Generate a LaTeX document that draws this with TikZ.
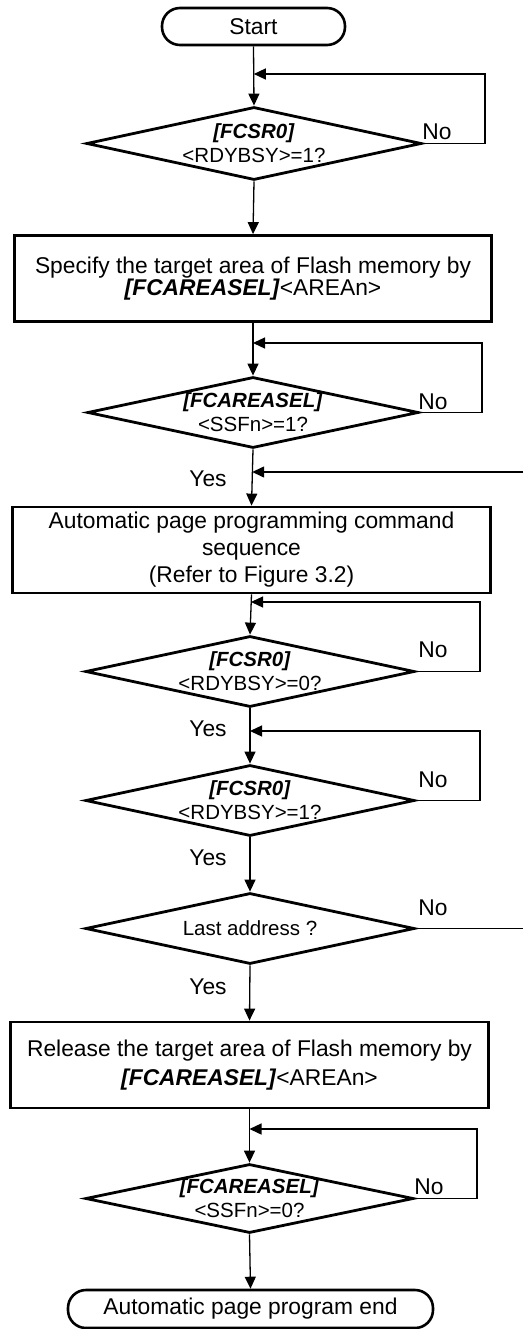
\documentclass[tikz,border=0pt]{standalone}
\usepackage{fontspec}
\setmainfont{Liberation Sans}
\usetikzlibrary{shapes.geometric,arrows.meta}
\begin{document}
\begin{tikzpicture}[x=1pt,y=-1pt,
  term/.style={draw,line width=2.6pt,rounded corners=18pt,minimum height=37pt,inner sep=0pt,font=\fontsize{22.8}{27}\selectfont},
  procbox/.style={draw,line width=2.8pt,minimum width=477pt,minimum height=86pt,inner sep=0pt,align=center,font=\fontsize{22.8}{27}\selectfont},
  decision/.style={draw,diamond,line width=2.8pt,inner sep=0pt,minimum width=330pt,minimum height=71pt},
  dtext/.style={inner sep=0pt,align=center,font=\fontsize{20.5}{24}\selectfont},
  lbl/.style={inner sep=0pt,font=\fontsize{22.8}{27}\selectfont},
  flow/.style={line width=1.3pt,-{Triangle[length=12pt,width=11pt]}},
  plain/.style={line width=1.3pt},
  reg/.style={font=\bfseries\itshape}
]
\useasboundingbox (0,0) rectangle (523,1329);

% nodes
\node[term,minimum width=183pt] (start) at (253.5,26.5) {Start};
\node[decision,minimum width=335pt,minimum height=73pt] (d1) at (254,143.5) {};
\node[dtext] (t1) at (d1.center) {\textbf{\textit{[FCSR0]}}\\<RDYBSY>=1?};
\node[procbox] (b1) at (253,278.5) {Specify the target area of Flash memory by\\[-5pt]\textbf{\textit{[FCAREASEL]}}<AREAn>};
\node[decision,minimum width=331pt] (d2) at (253,412.5) {};
\node[dtext] (t2) at (d2.center) {\textbf{\textit{[FCAREASEL]}}\\<SSFn>=1?};
\node[procbox,minimum width=478pt] (b2) at (251.5,550) {Automatic page programming command\\sequence\\(Refer to Figure 3.2)};
\node[decision,minimum width=329pt] (d3) at (250,671.5) {};
\node[dtext] (t3) at (d3.center) {\textbf{\textit{[FCSR0]}}\\<RDYBSY>=0?};
\node[decision,minimum width=329pt] (d4) at (250,800.5) {};
\node[dtext] (t4) at (d4.center) {\textbf{\textit{[FCSR0]}}\\<RDYBSY>=1?};
\node[decision,minimum width=329pt] (d5) at (250,928.5) {};
\node[dtext] (t5) at (d5.center) {Last address ?};
\node[procbox,minimum width=478pt] (b3) at (249.5,1065) {Release the target area of Flash memory by\\[2pt]\textbf{\textit{[FCAREASEL]}}<AREAn>};
\node[decision,minimum width=328pt,minimum height=69pt] (d6) at (249.5,1198.5) {};
\node[dtext] (t6) at (d6.center) {\textbf{\textit{[FCAREASEL]}}\\<SSFn>=0?};
\node[term,minimum width=365pt,minimum height=38pt] (end) at (250.5,1309) {Automatic page program end};

% labels
\node[lbl] (n1) at (437,132) {No};
\node[lbl] (n2) at (433,402) {No};
\node[lbl] (n3) at (433,650) {No};
\node[lbl] (n4) at (433,780) {No};
\node[lbl] (n5) at (433,908) {No};
\node[lbl] (n6) at (429,1187) {No};
\node[lbl] (y2) at (208,479) {Yes};
\node[lbl] (y3) at (208,729) {Yes};
\node[lbl] (y4) at (208,858) {Yes};
\node[lbl] (y5) at (208,987) {Yes};

% junction coordinates
\coordinate (j1) at (253.8,74);
\coordinate (j2) at (253,343);
\coordinate (j7) at (252.2,472);
\coordinate (j3) at (251,602);
\coordinate (j4) at (250,731);
\coordinate (j6) at (249.5,1129);
\coordinate (r7) at (523,472);
\coordinate (r5) at (523,928.5);

% main flow
\draw[flow] (start.south) -- (d1.north);
\draw[flow] (d1.south) -- (b1.north);
\draw[flow] (b1.south) -- (d2.north);
\draw[flow] (d2.south) -- (b2.north);
\draw[flow] (b2.south) -- (d3.north);
\draw[flow] (d3.south) -- (d4.north);
\draw[flow] (d4.south) -- (d5.north);
\draw[flow] (d5.south) -- (b3.north);
\draw[flow] (b3.south) -- (d6.north);
\draw[flow] (d6.south) -- (end.north);

% loops
\draw[flow] (d1.east) -- (485,143.5) |- (j1);
\draw[flow] (d2.east) -- (482,412.5) |- (j2);
\draw[flow] (d3.east) -- (480,671.5) |- (j3);
\draw[flow] (d4.east) -- (480,800.5) |- (j4);
\draw[flow] (d6.east) -- (477,1198.5) |- (j6);
\draw[flow] (r7) -- (j7);
\draw[plain] (d5.east) -- (r5);
\end{tikzpicture}
\end{document}
